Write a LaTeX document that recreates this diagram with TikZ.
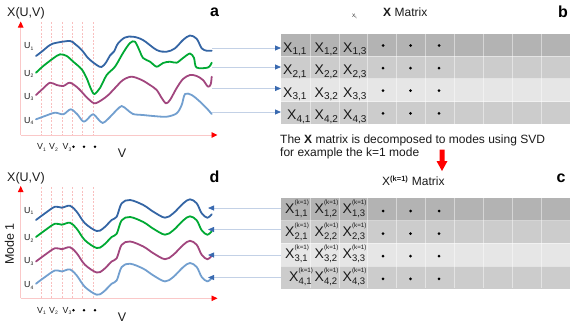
\documentclass[tikz,border=0pt]{standalone}
\usepackage{fontspec}
\setmainfont{Liberation Sans}
\usetikzlibrary{arrows.meta}
\definecolor{cblue}{HTML}{3465A4}
\definecolor{cgreen}{HTML}{00A933}
\definecolor{cpurple}{HTML}{A1467E}
\definecolor{clight}{HTML}{729FCF}
\definecolor{conn}{HTML}{C3D1E6}
\definecolor{connhead}{HTML}{3A6AB0}
\definecolor{axpink}{HTML}{FAC8C8}
\definecolor{dashpink}{HTML}{F9BFBF}
\definecolor{rowA}{HTML}{B3B3B3}
\definecolor{rowB}{HTML}{CCCCCC}
\definecolor{rowC}{HTML}{E6E6E6}
\definecolor{txt}{HTML}{1A1A1A}
\newcommand\fs[1]{\fontsize{#1}{#1}\selectfont}
\newcommand\bX[1]{X\raisebox{-2.5pt}{\fs{10}#1}}
\newcommand\kX[1]{X\rlap{\raisebox{8.8pt}{\fs{6.3}(k=1)}}\raisebox{-3pt}{\fs{9.5}#1}}
\newcommand\Ul[1]{U\raisebox{-1.5pt}{\fs{5}#1}}
\newcommand\Vl[1]{V\raisebox{-1.5pt}{\fs{5}#1}}
\begin{document}
\begin{tikzpicture}[x=1pt,y=-1pt,
  curve/.style={line width=1.8pt,line join=round,line cap=round},
  axline/.style={draw=axpink,line width=0.9pt,-{Triangle[length=6pt,width=5.5pt,color=red]}},
  vdash/.style={draw=dashpink,line width=0.5pt,dash pattern=on 2pt off 1.5pt},
  conline/.style={draw=conn,line width=0.8pt},
  tip/.style={-{Triangle[length=6pt,width=5pt,color=connhead]}},
  lab/.style={inner sep=0pt,font=\fs{12.5},text=txt},
  panel/.style={inner sep=0pt,font=\bfseries\fs{16}},
  ulab/.style={inner sep=0pt,font=\fs{8.8},text=txt,anchor=base west},
  cell/.style={inner sep=0pt,font=\fs{14},text=txt,anchor=base west},
  rowbox/.style={draw=none,minimum width=289pt,minimum height=22.6pt,inner sep=0pt,anchor=north west},
  sep/.style={draw=white,draw opacity=0.45,line width=0.6pt},
  dotm/.style={circle,fill=black,inner sep=0pt,minimum size=3pt}
]
\useasboundingbox (0,0) rectangle (581,327);

% ---------------- panel a ----------------
\node[lab,anchor=base west] (xa) at (7,16) {X(U,V)};
\node[panel,anchor=base] (pa) at (214.5,16.5) {a};
\coordinate (oa) at (20.7,135);
\coordinate (ya) at (20.7,21.5);
\coordinate (xae) at (217.5,135);
\foreach \x in {41,51,62,72,82,93}{\draw[vdash] (\x,22) -- (\x,135);}
\draw[axline] (oa) -- (ya);
\draw[axline] (oa) -- (xae);
\node[ulab] (ua1) at (24,48.5) {\Ul{1}};
\node[ulab] (ua2) at (24,76) {\Ul{2}};
\node[ulab] (ua3) at (24,99) {\Ul{3}};
\node[ulab] (ua4) at (24,123) {\Ul{4}};
\node[ulab] (va1) at (37,149.5) {\Vl{1}};
\node[ulab] (va2) at (49,149.5) {\Vl{2}};
\node[ulab] (va3) at (62.5,149.5) {\Vl{3}};
\foreach \x in {73.5,84,95}{\node[dotm,minimum size=2.8pt] at (\x,146.8) {};}
\node[lab,anchor=base] (vla) at (122,157) {V};

\draw[curve,cblue] plot[smooth,tension=0.55] coordinates {(36,56) (41.7,51.7) (50,45) (56.7,42.7) (70,41) (75,44) (81.7,50) (88.3,58.3) (96.7,65) (101.5,67) (106,62.5) (110,55.5) (114,51.5) (118,43.5) (125,37.5) (133,36.7) (143,40) (156.7,50) (166.7,51.7) (175,48.3) (183,40) (190,35.5) (196.7,38.8) (201.7,48.3) (206.7,50.7) (211.7,50.7)};
\draw[curve,cgreen] plot[smooth,tension=0.5] coordinates {(36,72.7) (43.3,66) (53.3,58.3) (60,54.3) (66.7,56) (73.3,61.7) (81.7,69.3) (86.7,78.3) (90.7,88.3) (94.3,94) (100,88) (106.7,75) (115,66.7) (123,53) (130,43) (135,41.7) (140,51.7) (143,58) (150,61.7) (156.7,66.7) (163,63) (170,61.7) (176.7,62.7) (183,58) (190,53.5) (194,58) (196.5,67.5) (208,67.5) (211.7,62.7)};
\draw[curve,cpurple] plot[smooth,tension=0.5] coordinates {(36,95) (43.3,88.3) (50,82.7) (56.7,85) (63.3,86) (70,82.7) (78.3,88.3) (86.7,97.3) (94.3,103.3) (101.7,100) (108.3,95) (115,88) (123,80) (131.7,76.7) (141.7,80) (150,85) (156.7,90) (161.7,98) (166,103.3) (170,100) (176.7,88) (183,79) (190,75) (196.7,76) (203,80) (208,86.7) (210.7,84.3) (211.7,76.7)};
\draw[curve,clight] plot[smooth,tension=0.5] coordinates {(36,119.3) (45,116) (55,112.7) (63.3,114.3) (70.7,109.3) (77.3,114.3) (84,121.7) (92.7,114.3) (98.3,119.3) (102.7,123) (108,119) (116.7,110) (121.7,106) (126.7,109.3) (133,114) (143,115) (153,116) (166.7,116.7) (176.7,113.3) (181.7,105) (185,94) (191.7,95) (200,101.7) (206.7,108.3) (211.7,114)};

% ---------------- panel b ----------------
\node[inner sep=0pt,font=\fs{5},text=txt,anchor=base west] (xi) at (352,17) {X\raisebox{-1pt}{\fs{3.5}i,}};
\node[lab,anchor=base west,font=\fs{12}] (mb) at (383,16.5) {\textbf{X}\hspace{3.5pt}Matrix};
\node[panel,anchor=base] (pb) at (563,17) {b};
\foreach \r/\c in {1/rowA,2/rowB,3/rowC,4/rowB}{
  \node[rowbox,fill=\c] (rb\r) at (281,{33.5+22.6*(\r-1)}) {};
}
\foreach \i in {1,...,9}{\draw[sep] ({281+28.9*\i},33.5) -- ({281+28.9*\i},123.9);}
\foreach \r in {1,2,3}{\draw[sep] (281,{33.5+22.6*\r}) -- (570,{33.5+22.6*\r});}
\foreach \r in {1,2,3,4}{
  \pgfmathsetmacro\yb{33.5+22.6*(\r-1)+18.5}
  \pgfmathsetmacro\yd{33.5+22.6*(\r-1)+12}
  \ifnum\r=4 \def\xo{287}\else\def\xo{283}\fi
  \node[cell] at (\xo,\yb) {\bX{\r,1}};
  \node[cell] at (314.5,\yb) {\bX{\r,2}};
  \node[cell] at (343,\yb) {\bX{\r,3}};
  \foreach \x in {383,410.5,439}{\node[dotm] at (\x,\yd) {};}
}
% connectors a -> b
\foreach \r/\y in {1/48,2/67,3/88.5,4/112}{
  \coordinate (sa\r) at (212,\y);
  \coordinate (tb\r) at (281,\y);
  \draw[conline,tip] (sa\r) -- (tb\r);
}

% text + red arrow
\node[inner sep=0pt,anchor=base west,font=\fs{12},text=txt,align=left] (desc) at (280,143) {The \textbf{X} matrix is decomposed to modes using SVD};
\node[inner sep=0pt,anchor=base west,font=\fs{12},text=txt] (desc2) at (280,156.3) {for example the k=1 mode};
\fill[red] (439.5,149.5) -- (444.5,149.5) -- (444.5,161) -- (447.5,161) -- (442,171) -- (436.5,161) -- (439.5,161) -- cycle;

% ---------------- panel c ----------------
\node[lab,anchor=base west,font=\fs{12}] (mc) at (382,185.5) {X\raisebox{4.5pt}{\fs{7.5}\textbf{(k=1)}}\hspace{4pt}Matrix};
\node[panel,anchor=base] (pc) at (561,182.5) {c};
\foreach \r/\c in {1/rowA,2/rowB,3/rowC,4/rowB}{
  \node[rowbox,fill=\c] (rc\r) at (281,{198+22.6*(\r-1)}) {};
}
\foreach \i in {1,...,9}{\draw[sep] ({281+28.9*\i},198) -- ({281+28.9*\i},288.4);}
\foreach \r in {1,2,3}{\draw[sep] (281,{198+22.6*\r}) -- (570,{198+22.6*\r});}
\foreach \r in {1,2,3,4}{
  \pgfmathsetmacro\yb{198+22.6*(\r-1)+15.5}
  \pgfmathsetmacro\yd{198+22.6*(\r-1)+13}
  \ifnum\r=4 \def\xo{289}\else\def\xo{285}\fi
  \node[cell] at (\xo,\yb) {\kX{\r,1}};
  \node[cell] at (314.5,\yb) {\kX{\r,2}};
  \node[cell] at (342.5,\yb) {\kX{\r,3}};
  \foreach \x in {383,410.5,439}{\node[dotm] at (\x,\yd) {};}
}

% ---------------- panel d ----------------
\node[lab,anchor=base west] (xd) at (7,181) {X(U,V)};
\node[panel,anchor=base] (pd) at (214.5,182) {d};
\node[lab,rotate=90] (mode) at (9.5,244) {Mode 1};
\coordinate (od) at (20.7,298.3);
\coordinate (yd) at (20.7,186);
\coordinate (xde) at (217.5,298.3);
\foreach \x in {41,51,62,72,82,93}{\draw[vdash] (\x,187) -- (\x,298.3);}
\draw[axline] (od) -- (yd);
\draw[axline] (od) -- (xde);
\node[ulab] (ud1) at (24,213) {\Ul{1}};
\node[ulab] (ud2) at (24,240.5) {\Ul{2}};
\node[ulab] (ud3) at (24,263.5) {\Ul{3}};
\node[ulab] (ud4) at (24,287.5) {\Ul{4}};
\node[ulab] (vd1) at (37,313) {\Vl{1}};
\node[ulab] (vd2) at (49,313) {\Vl{2}};
\node[ulab] (vd3) at (62.5,313) {\Vl{3}};
\foreach \x in {73.5,84,95}{\node[dotm,minimum size=2.8pt] at (\x,310.3) {};}
\node[lab,anchor=base] (vld) at (122,321.5) {V};

\def\modepath{plot[smooth,tension=0.55] coordinates {(36,220) (45,213.3) (55,206.7) (61.7,207.7) (70,205.7) (76.7,211.7) (85,223.3) (96.7,231) (103.3,228.3) (111.7,220) (116.7,216.7) (121.7,203.3) (130,200) (143.3,205) (153.3,211.7) (165,217.7) (173.3,213.3) (183.3,203.3) (190,199.3) (196.7,203.3) (201.7,213.3) (207.3,217.7) (211.7,214.3)}}
\draw[curve,cblue] \modepath;
\draw[curve,cgreen,yshift=-17pt] \modepath;
\draw[curve,cpurple,yshift=-41.5pt] \modepath;
\draw[curve,clight,yshift=-63.7pt] \modepath;

% connectors c -> d
\foreach \r/\y in {1/208,2/229.5,3/255,4/277.5}{
  \coordinate (sc\r) at (281,\y);
  \coordinate (td\r) at (208,\y);
  \draw[conline,tip] (sc\r) -- (td\r);
}
\end{tikzpicture}
\end{document}
